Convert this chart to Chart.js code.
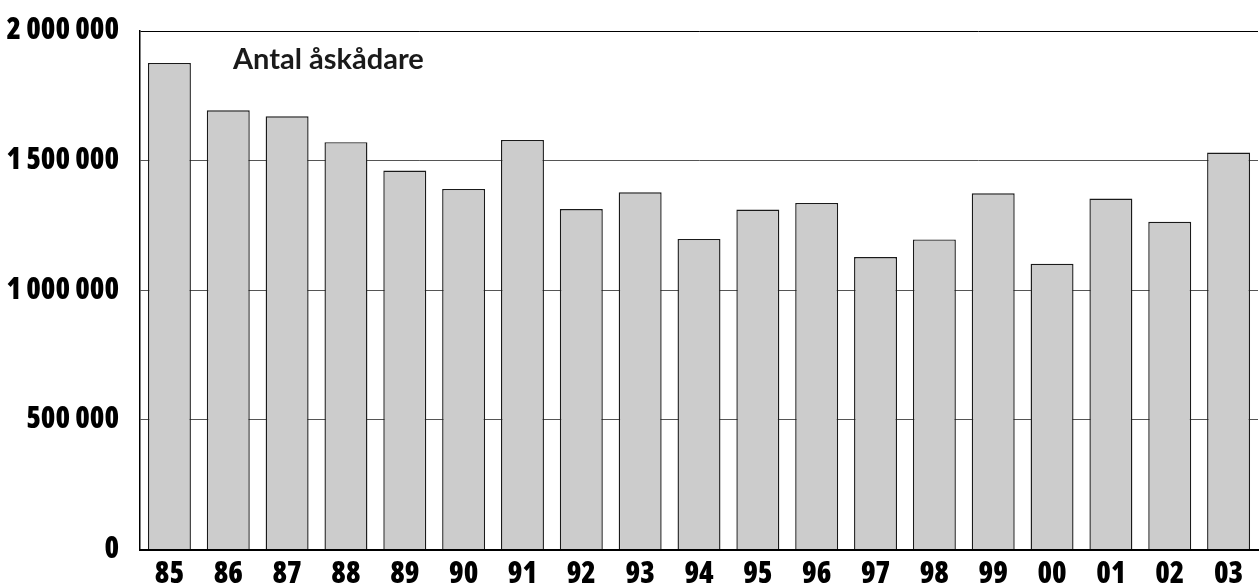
<!DOCTYPE html>
<html>
<head>
<meta charset="utf-8">
<script src="https://cdn.jsdelivr.net/npm/chart.js@4.4.1/dist/chart.umd.min.js"></script>
<style>
  html, body { margin: 0; padding: 0; background: #fff; }
  #wrap { width: 1259px; height: 587px; position: relative; }
</style>
</head>
<body>
<div id="wrap"><canvas id="c" width="1259" height="587"></canvas></div>
<script>
const years = ['85','86','87','88','89','90','91','92','93','94','95','96','97','98','99','00','01','02','03'];
const spectators = [1877000, 1694000, 1671000, 1571000, 1462000, 1391000, 1580000, 1313000, 1378000, 1198000, 1311000, 1337000, 1128000, 1196000, 1374000, 1102000, 1354000, 1264000, 1531000];
const yTicks = [0, 500000, 1000000, 1500000, 2000000];
const yTickLabels = ['0', '500 000', '1 000 000', '1 500 000', '2 000 000'];
const chartTitle = 'Antal åskådare';

const axisFont = { family: "'Open Sans', 'Roboto', sans-serif", size: 29.5, weight: '800 condensed' };

const titlePlugin = {
  id: 'innerTitle',
  afterDatasetsDraw(chart) {
    const ctx = chart.ctx;
    ctx.save();
    ctx.font = "bold 29px 'Lato', 'Open Sans', sans-serif";
    ctx.fillStyle = '#1a1a1a';
    ctx.textAlign = 'left';
    ctx.textBaseline = 'alphabetic';
    ctx.fillText(chartTitle, chart.chartArea.left + 93, chart.chartArea.top + 38);
    ctx.restore();
  }
};

new Chart(document.getElementById('c'), {
  type: 'bar',
  data: {
    labels: years,
    datasets: [{
      data: spectators,
      backgroundColor: '#cccccc',
      borderColor: '#1a1a1a',
      borderWidth: 1.4,
      barPercentage: 0.73,
      categoryPercentage: 1.0
    }]
  },
  options: {
    responsive: false,
    animation: false,
    layout: { padding: { top: 31, right: 1, left: 0, bottom: 0 } },
    plugins: { legend: { display: false }, tooltip: { enabled: false }, title: { display: false } },
    scales: {
      x: {
        grid: { display: false, drawTicks: false },
        border: { display: true, color: '#000', width: 2 },
        ticks: { color: '#000', font: axisFont, padding: 7, maxRotation: 0, autoSkip: false },
        afterFit(scale) { scale.height = 37.5; scale.paddingLeft = 0; scale.paddingRight = 0; }
      },
      y: {
        min: 0,
        max: 2000000,
        afterBuildTicks(scale) { scale.ticks = yTicks.map(v => ({ value: v })); },
        grid: {
          drawTicks: false,
          color: ctx => (ctx.tick && ctx.tick.value === 2000000) ? '#000' : '#555',
          lineWidth: 1
        },
        border: { display: true, color: '#000', width: 1.5 },
        ticks: {
          color: '#000',
          font: axisFont,
          padding: 21,
          callback: (v) => { const i = yTicks.indexOf(v); return i >= 0 ? yTickLabels[i] : ''; }
        },
        afterFit(scale) { scale.width = 140; scale.paddingTop = 0; scale.paddingBottom = 0; }
      }
    }
  },
  plugins: [titlePlugin]
});
</script>
</body>
</html>
